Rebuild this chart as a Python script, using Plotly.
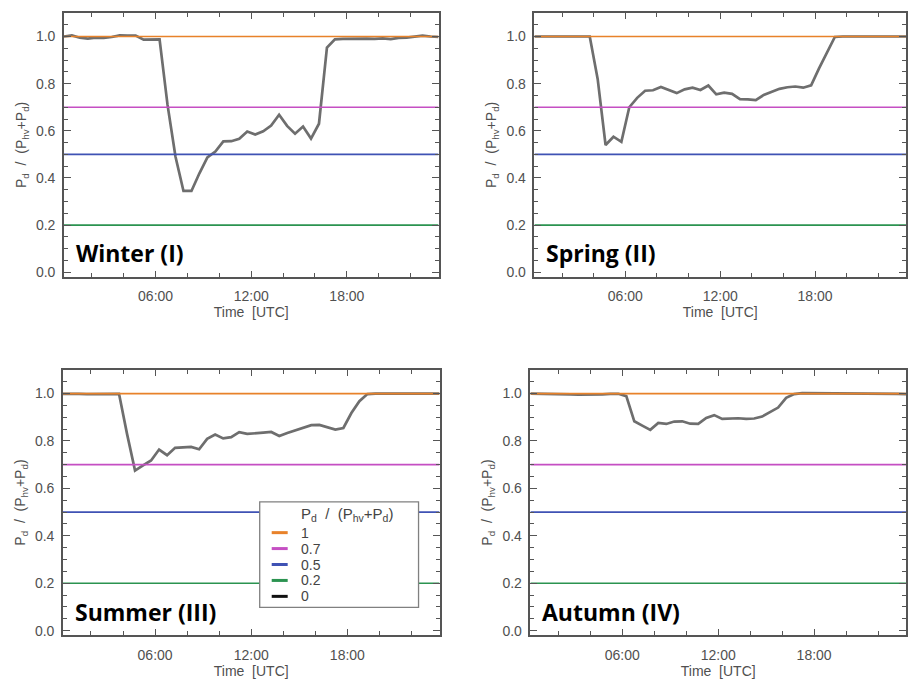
import numpy as np
import plotly.graph_objects as go

# Half-hourly time stamps (UTC hours, centred on :15 and :45)
TIME_UTC = np.arange(0.25, 24.0, 0.5)

SEASONS = ["Winter (I)", "Spring (II)", "Summer (III)", "Autumn (IV)"]

WINTER = [1.000, 1.005, 0.995, 0.991, 0.995, 0.994, 0.998, 1.005, 1.004, 1.004,
          0.987, 0.988, 0.988, 0.710, 0.490, 0.345, 0.345, 0.420, 0.487, 0.512,
          0.555, 0.556, 0.566, 0.597, 0.584, 0.598, 0.622, 0.668, 0.621, 0.588,
          0.618, 0.567, 0.630, 0.953, 0.988, 0.990, 0.991, 0.992, 0.991, 0.990,
          0.992, 0.989, 0.994, 0.995, 0.998, 1.004, 1.000, 0.998]

SPRING = [1.000, 1.000, 1.000, 1.000, 1.000, 1.000, 1.000, 1.000, 0.820, 0.540,
          0.575, 0.553, 0.700, 0.740, 0.770, 0.772, 0.786, 0.772, 0.760, 0.776,
          0.783, 0.773, 0.792, 0.755, 0.762, 0.757, 0.734, 0.733, 0.730, 0.752,
          0.766, 0.778, 0.785, 0.788, 0.783, 0.793, 0.865, 0.932, 0.998, 1.000,
          1.000, 1.000, 1.000, 1.000, 1.000, 1.000, 1.000, 1.000]

SUMMER = [0.999, 1.000, 0.999, 0.998, 0.999, 1.000, 1.000, 0.999, 0.830, 0.675,
          0.697, 0.718, 0.764, 0.740, 0.771, 0.774, 0.775, 0.765, 0.809, 0.827,
          0.811, 0.816, 0.837, 0.830, 0.834, 0.835, 0.838, 0.821, 0.834, 0.844,
          0.855, 0.867, 0.868, 0.859, 0.848, 0.855, 0.918, 0.968, 0.998, 1.000,
          1.000, 1.000, 1.000, 1.000, 1.000, 1.000, 1.000, 1.000]

AUTUMN = [1.000, 1.000, 0.999, 1.000, 0.998, 0.997, 0.995, 0.995, 0.996, 0.997,
          0.999, 0.999, 0.989, 0.883, 0.865, 0.847, 0.876, 0.872, 0.882, 0.883,
          0.873, 0.872, 0.897, 0.909, 0.893, 0.896, 0.896, 0.893, 0.895, 0.903,
          0.921, 0.941, 0.982, 0.998, 1.002, 1.002, 1.000, 0.999, 1.000, 1.001,
          1.002, 1.002, 1.001, 1.001, 1.000, 1.000, 0.999, 0.998]

SERIES = [WINTER, SPRING, SUMMER, AUTUMN]

# Reference ratio levels P_d / (P_hv + P_d)
THRESHOLDS = [1.0, 0.7, 0.5, 0.2, 0.0]
THRESHOLD_LABELS = ["1", "0.7", "0.5", "0.2", "0"]
THRESHOLD_COLORS = ["#E8822A", "#C54FC3", "#3F52B4", "#2B9350", "#111111"]
DRAWN_LEVELS = 4  # the 0 level only appears in the key

X_TICKS = [6, 12, 18]
X_TICK_LABELS = ["06:00", "12:00", "18:00"]
X_MINOR = [2, 4, 8, 10, 14, 16, 20, 22]

RATIO_TITLE = "P<sub>d</sub>&nbsp; /&nbsp; (P<sub>hv</sub>+P<sub>d</sub>)"

W, H = 908, 681
# panel boxes in pixels: (left, right, top, bottom)
BOXES = [(64, 439, 13, 278), (535, 907, 13, 278),
         (63, 440, 371.5, 638), (531, 907, 371.5, 638)]
# key box in pixels: (left, right, top, bottom), row pitch
KEY_BOX = (260, 419, 504, 610)
KEY_PITCH = 16

CURVE_COLOR = "#6E6E6E"
AXIS_COLOR = "#555555"
TEXT_COLOR = "#505050"
FONT_FAMILY = "Liberation Sans, Arial, sans-serif"
TICK_FONT = dict(family=FONT_FAMILY, size=14, color=TEXT_COLOR)


def px(x):
    return x / W


def py(y):
    return 1 - y / H


fig = go.Figure()
layout = dict(
    width=W, height=H,
    margin=dict(l=0, r=0, t=0, b=0),
    paper_bgcolor="white", plot_bgcolor="white",
    showlegend=False,
    annotations=[], shapes=[],
)

for i, (name, values) in enumerate(zip(SEASONS, SERIES)):
    sfx = "" if i == 0 else str(i + 1)
    xa, ya = "x" + sfx, "y" + sfx
    left, right, top, bottom = BOXES[i]

    fig.add_trace(go.Scatter(
        x=TIME_UTC, y=values, mode="lines", xaxis=xa, yaxis=ya,
        line=dict(color=CURVE_COLOR, width=2.7), hoverinfo="skip"))

    for lvl, col in zip(THRESHOLDS[:DRAWN_LEVELS], THRESHOLD_COLORS[:DRAWN_LEVELS]):
        fig.add_trace(go.Scatter(
            x=[TIME_UTC[0], TIME_UTC[-1]], y=[lvl, lvl], mode="lines",
            xaxis=xa, yaxis=ya, line=dict(color=col, width=1.7),
            hoverinfo="skip"))

    layout["xaxis" + sfx] = dict(
        domain=[px(left), px(right)], anchor=ya,
        range=[TIME_UTC[0], TIME_UTC[-1]],
        tickmode="array", tickvals=X_TICKS, ticktext=X_TICK_LABELS,
        ticks="inside", ticklen=6, tickwidth=1.2, tickcolor=AXIS_COLOR,
        minor=dict(tickvals=X_MINOR, ticks="inside", ticklen=4,
                   tickwidth=1.2, tickcolor=AXIS_COLOR, showgrid=False),
        showline=True, linecolor=AXIS_COLOR, linewidth=1.5, mirror="ticks",
        showgrid=False, zeroline=False, tickfont=TICK_FONT,
        ticklabelstandoff=6,
        title=dict(text="Time&nbsp; [UTC]", font=TICK_FONT, standoff=2),
    )
    layout["yaxis" + sfx] = dict(
        domain=[py(bottom), py(top)], anchor=xa,
        range=[-0.019, 1.10],
        tickmode="linear", tick0=0, dtick=0.2, tickformat=".1f",
        ticks="inside", ticklen=7, tickwidth=1.2, tickcolor=AXIS_COLOR,
        minor=dict(tick0=0, dtick=0.05, ticks="inside", ticklen=4,
                   tickwidth=1.2, tickcolor=AXIS_COLOR, showgrid=False),
        showline=True, linecolor=AXIS_COLOR, linewidth=1.5, mirror="ticks",
        showgrid=False, zeroline=False, tickfont=TICK_FONT,
        ticklabelstandoff=4,
        title=dict(text=RATIO_TITLE,
                   font=dict(family=FONT_FAMILY, size=14, color=TEXT_COLOR),
                   standoff=6),
    )

    layout["annotations"].append(dict(
        text="<b>%s</b>" % name, xref=xa + " domain", yref=ya,
        x=0, xshift=10, y=0.08, xanchor="left", yanchor="middle",
        showarrow=False,
        font=dict(family="Open Sans, sans-serif", size=23, color="black")))

# key of the ratio levels, boxed inside the summer panel
k_left, k_right, k_top, k_bottom = KEY_BOX
layout["shapes"].append(dict(
    type="rect", xref="paper", yref="paper", layer="above",
    x0=px(k_left), x1=px(k_right), y0=py(k_bottom), y1=py(k_top),
    fillcolor="white", line=dict(color="#808080", width=1.3)))
layout["annotations"].append(dict(
    text=RATIO_TITLE, xref="paper", yref="paper",
    x=px(k_left + 40), y=py(k_top + 13), xanchor="left", yanchor="middle",
    showarrow=False, borderpad=0,
    font=dict(family=FONT_FAMILY, size=15, color="#444444")))
for j, (lab, col) in enumerate(zip(THRESHOLD_LABELS, THRESHOLD_COLORS)):
    row_y = k_top + 31 + j * KEY_PITCH
    layout["shapes"].append(dict(
        type="line", xref="paper", yref="paper", layer="above",
        x0=px(k_left + 12), x1=px(k_left + 28), y0=py(row_y), y1=py(row_y),
        line=dict(color=col, width=3)))
    layout["annotations"].append(dict(
        text=lab, xref="paper", yref="paper",
        x=px(k_left + 40), y=py(row_y), xanchor="left", yanchor="middle",
        showarrow=False, borderpad=0,
        font=dict(family=FONT_FAMILY, size=14, color="#444444")))

fig.update_layout(**layout)
fig.write_html("out.html")
